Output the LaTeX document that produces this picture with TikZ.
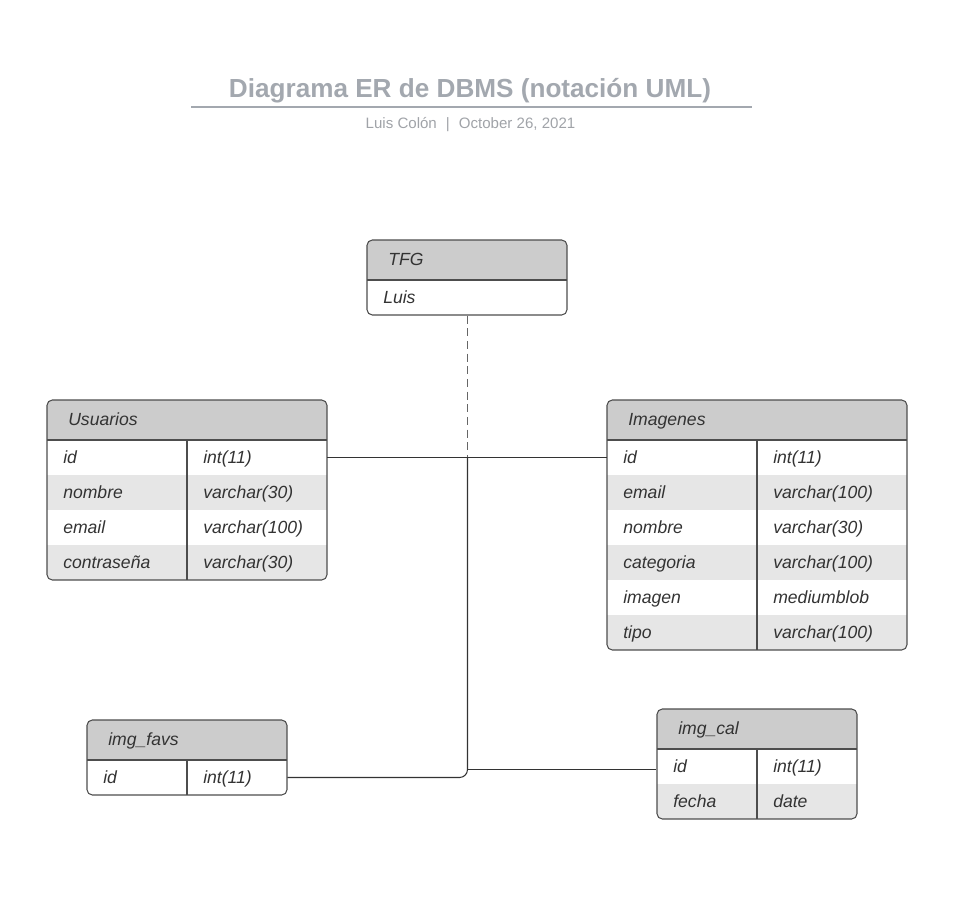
\documentclass[tikz,border=0pt]{standalone}
\usepackage{fontspec}
\setmainfont{Liberation Sans}
\usetikzlibrary{fit}
\definecolor{hdrfill}{HTML}{CCCCCC}
\definecolor{altfill}{HTML}{E6E6E6}
\definecolor{bordercol}{HTML}{4D4D4D}
\definecolor{txtcol}{HTML}{333333}
\definecolor{titlecol}{HTML}{A3A8AF}
\definecolor{subcol}{HTML}{A0A3A8}
\definecolor{linkcol}{HTML}{333333}
\definecolor{dashcol}{HTML}{666666}
\tikzset{
  tblframe/.style={draw=bordercol, line width=0.8pt, rounded corners=4pt, inner sep=0pt},
  rowbox/.style={inner sep=0pt},
  sepline/.style={draw=bordercol, line width=0.8pt},
  fieldtxt/.style={font=\fontsize{13.2}{15}\selectfont\itshape, text=txtcol, inner sep=0pt, anchor=base west},
  link/.style={draw=linkcol, line width=0.8pt},
  dashlink/.style={draw=dashcol, line width=0.7pt, dash pattern=on 6pt off 3.5pt},
}
% #1 name, #2 x1, #3 y1, #4 x2, #5 y2, #6 divider x (or empty), #7 title, #8 rows
\newcommand{\ertable}[8]{%
  \begin{scope}
    \clip[rounded corners=4pt] (#2,#3) rectangle (#4,#5);
    \fill[hdrfill] (#2,#3) rectangle (#4,#3+40);
    \foreach \a/\b [count=\i] in {#8} {
      \ifodd\i\else
        \fill[altfill] (#2,#3+5+35*\i) rectangle (#4,#3+40+35*\i);
      \fi
    }
  \end{scope}
  \node[tblframe, fit={(#2,#3)(#4,#5)}] (#1) {};
  \node[fieldtxt] (#1-title) at (#2+21,#3+25.5) {#7};
  \draw[sepline] (#2,#3+40) -- (#4,#3+40);
  \if\relax\detokenize{#6}\relax\else
    \draw[sepline] (#6,#3+40) -- (#6,#5);
  \fi
  \foreach \a/\b [count=\i] in {#8} {
    \node[rowbox, fit={(#2,#3+5+35*\i)(#4,#3+40+35*\i)}] (#1-\i) {};
    \node[fieldtxt] (#1-\i-n) at (#2+16,#3+28.5+35*\i) {\a};
    \if\relax\detokenize{#6}\relax\else
      \node[fieldtxt] (#1-\i-t) at (#6+16,#3+28.5+35*\i) {\b};
    \fi
  }
}
\begin{document}
\begin{tikzpicture}[x=0.75pt, y=-0.75pt]
  \useasboundingbox (0,0) rectangle (957,906);
  % title
  \node[font=\fontsize{19.6}{22}\selectfont\bfseries, text=titlecol, inner sep=0pt, anchor=base] (title) at (470,98) {Diagrama ER de DBMS (notación UML)};
  \coordinate (ulL) at (191,107);
  \coordinate (ulR) at (752,107);
  \draw[titlecol, line width=1.2pt] (ulL) -- (ulR);
  \node[font=\fontsize{11.3}{13}\selectfont, text=subcol, inner sep=0pt, anchor=base] (subtitle) at (470.5,128) {Luis Colón\hspace{0.6em}|\hspace{0.6em}October 26, 2021};
  % tables
  \ertable{tfg}{367}{240}{567}{315}{}{TFG}{Luis/}
  \ertable{usuarios}{47}{400}{327}{580}{187}{Usuarios}{id/int(11), nombre/varchar(30), email/varchar(100), contraseña/varchar(30)}
  \ertable{imagenes}{607}{400}{907}{650}{757}{Imagenes}{id/int(11), email/varchar(100), nombre/varchar(30), categoria/varchar(100), imagen/mediumblob, tipo/varchar(100)}
  \ertable{favs}{87}{720}{287}{795}{187}{img\_favs}{id/int(11)}
  \ertable{cal}{657}{709}{857}{819}{757}{img\_cal}{id/int(11), fecha/date}
  % connectors
  \coordinate (j1) at (467.5,457.5);
  \coordinate (j2) at (467.5,769.5);
  \draw[dashlink] (tfg.south -| j1) -- (j1);
  \draw[link] (usuarios-1.east) -- (imagenes-1.west);
  \draw[link, rounded corners=6pt] (j1) |- (favs-1.east);
  \draw[link] (j2) -- (j2 -| cal.west);
\end{tikzpicture}
\end{document}
